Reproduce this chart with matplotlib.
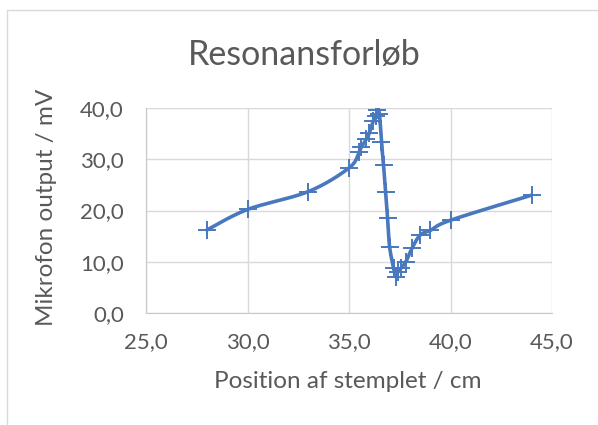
import numpy as np
import matplotlib
matplotlib.use("Agg")
import matplotlib.pyplot as plt
from matplotlib.patches import Rectangle
from matplotlib.ticker import FuncFormatter, MultipleLocator

# Data
position_cm = [28.0, 30.0, 33.0, 35.0, 35.5, 35.6, 35.85, 36.0, 36.2, 36.35, 36.4,
               36.5, 36.6, 36.7, 36.8, 36.9, 37.0, 37.2, 37.3, 37.4, 37.55, 37.8,
               38.1, 38.5, 39.0, 40.0, 44.0]
output_mv = [16.2, 20.2, 23.7, 28.3, 31.4, 32.3, 33.9, 35.1, 37.5, 38.5, 39.6,
             38.8, 33.3, 28.9, 23.7, 18.5, 12.9, 8.7, 7.1, 8.0, 8.7, 10.0,
             12.6, 15.2, 16.1, 18.1, 23.0]

title = "Resonansforløb"
xlabel = "Position af stemplet / cm"
ylabel = "Mikrofon output / mV"

FONT = ["Lato", "DejaVu Sans"]
plt.rcParams['font.family'] = FONT

BLUE = "#4878BE"
GRAY_TXT = "#595959"
GRID = "#D9D9D9"

W, H = 598, 425


def smooth(xs, ys, n=30):
    """Excel-like smoothing: cubic Bezier with Catmull-Rom control points."""
    P = np.column_stack([xs, ys]).astype(float)
    out = []
    m = len(P)
    for i in range(m - 1):
        p0 = P[i - 1] if i > 0 else P[i]
        p1 = P[i]
        p2 = P[i + 1]
        p3 = P[i + 2] if i + 2 < m else P[i + 1]
        c1 = p1 + (p2 - p0) / 6.0
        c2 = p2 - (p3 - p1) / 6.0
        t = np.linspace(0, 1, n, endpoint=(i == m - 2))[:, None]
        seg = ((1 - t) ** 3) * p1 + 3 * ((1 - t) ** 2) * t * c1 + 3 * (1 - t) * t ** 2 * c2 + t ** 3 * p2
        out.append(seg)
    S = np.vstack(out)
    return S[:, 0], S[:, 1]


fig = plt.figure(figsize=(W / 100, H / 100), dpi=100)
L, R, T, B = 146, 552, 108, 313
ax = fig.add_axes([L / W, 1 - B / H, (R - L) / W, (B - T) / H])

sx, sy = smooth(position_cm, output_mv)
ax.plot(sx, sy, color=BLUE, lw=2.6, solid_capstyle='round', zorder=3)
ax.plot(position_cm, output_mv, linestyle='none', marker='+', markersize=13,
        markeredgewidth=1.4, color=BLUE, zorder=4)

ax.set_xlim(25, 45)
ax.set_ylim(0, 40)
ax.xaxis.set_major_locator(MultipleLocator(5))
ax.yaxis.set_major_locator(MultipleLocator(10))
fmt = FuncFormatter(lambda v, p: f"{v:.1f}".replace(".", ","))
ax.xaxis.set_major_formatter(fmt)
ax.yaxis.set_major_formatter(fmt)

ax.grid(True, color=GRID, lw=1.0)
ax.set_axisbelow(True)
for s in ax.spines.values():
    s.set_visible(False)
ax.spines['left'].set_visible(True)
ax.spines['bottom'].set_visible(True)
ax.spines['left'].set_color("#C8C8C8")
ax.spines['bottom'].set_color("#C8C8C8")
ax.tick_params(axis='both', length=0, labelsize=16, labelcolor=GRAY_TXT)
ax.tick_params(axis='x', pad=14)
ax.tick_params(axis='y', pad=16)

ax.set_xlabel(xlabel, fontsize=17.5, color=GRAY_TXT)
ax.set_ylabel(ylabel, fontsize=17.5, color=GRAY_TXT)
ax.xaxis.label.set_va('center')
ax.yaxis.label.set_va('center')
ax.xaxis.set_label_coords((348 - L) / (R - L), (B - 382) / (B - T))
ax.yaxis.set_label_coords((47 - L) / (R - L), (B - 207) / (B - T))

fig.text(304.5 / W, 1 - 55 / H, title, fontsize=24.5, color=GRAY_TXT,
         ha='center', va='center')

# Chart frame (only left and top edges visible)
fig.patches.append(Rectangle((7 / W, -0.1), 1.2, 1 - 10 / H + 0.1,
                             transform=fig.transFigure, fill=False,
                             edgecolor="#D9D9D9", lw=1.0, zorder=0))

fig.savefig("out.png", dpi=100)
